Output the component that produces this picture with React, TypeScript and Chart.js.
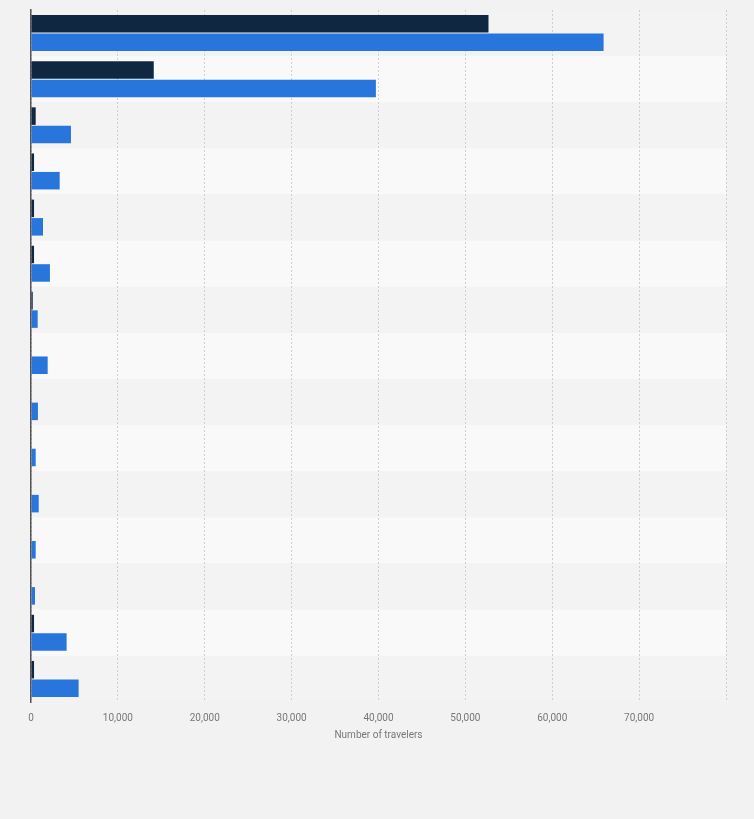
import { useRef, useEffect } from 'react';
import { Chart, registerables } from 'chart.js';

Chart.register(...registerables);

// category names are not printed in the picture, so these are placeholders
const categories = [
  'Row 1', 'Row 2', 'Row 3', 'Row 4', 'Row 5', 'Row 6', 'Row 7', 'Row 8',
  'Row 9', 'Row 10', 'Row 11', 'Row 12', 'Row 13', 'Row 14', 'Row 15',
];
const darkValues = [52660, 14130, 540, 350, 350, 350, 200, 0, 0, 0, 0, 0, 0, 350, 350];
const blueValues = [65910, 39700, 4600, 3300, 1380, 2180, 770, 1920, 800, 540, 890, 540, 460, 4100, 5480];
const xTicks = [0, 10000, 20000, 30000, 40000, 50000, 60000, 70000, 80000];

const rowBands = {
  id: 'rowBands',
  beforeDraw(chart: Chart) {
    const { ctx, chartArea, scales } = chart;
    const y = scales.y;
    ctx.save();
    ctx.fillStyle = '#f2f2f2';
    ctx.fillRect(0, 0, chart.width, chart.height);
    const step = categories.length > 1 ? y.getPixelForValue(1) - y.getPixelForValue(0) : chartArea.height;
    categories.forEach((_, i) => {
      const c = y.getPixelForValue(i);
      ctx.fillStyle = i % 2 === 0 ? '#f3f3f3' : '#f9f9f9';
      ctx.fillRect(chartArea.left, c - step / 2, chartArea.right - chartArea.left, step);
    });
    ctx.restore();
  },
};

export default function App() {
  const canvasRef = useRef<HTMLCanvasElement>(null);
  const chartRef = useRef<Chart | null>(null);

  useEffect(() => {
    document.body.style.margin = '0';
    document.body.style.background = '#f2f2f2';
    if (!canvasRef.current) return;
    if (chartRef.current) chartRef.current.destroy();

    chartRef.current = new Chart(canvasRef.current, {
      type: 'bar',
      data: {
        labels: categories,
        datasets: [
          {
            label: 'Series 1',
            data: darkValues,
            backgroundColor: '#0f2740',
            categoryPercentage: 0.8,
            barPercentage: 0.95,
          },
          {
            label: 'Series 2',
            data: blueValues,
            backgroundColor: '#2876dc',
            categoryPercentage: 0.8,
            barPercentage: 0.95,
          },
        ],
      },
      options: {
        indexAxis: 'y',
        animation: false,
        responsive: false,
        maintainAspectRatio: false,
        layout: { padding: { left: 23, right: 28, top: 10, bottom: 74 } },
        plugins: {
          legend: { display: false },
          tooltip: { enabled: false },
        },
        scales: {
          x: {
            min: 0,
            max: 80000,
            afterBuildTicks: (axis) => {
              axis.ticks = xTicks.map((v) => ({ value: v }));
            },
            grid: { color: '#cfcfcf', lineWidth: 1, drawTicks: false },
            border: { display: false, dash: [2, 2] },
            ticks: {
              padding: 10,
              color: '#777',
              font: { family: 'Roboto', size: 10 },
              callback: (v) => (Number(v) === 80000 ? '' : Number(v).toLocaleString('en-US')),
            },
            title: {
              display: true,
              text: 'Number of travelers',
              color: '#777',
              font: { family: 'Roboto', size: 10 },
              padding: { top: -5, bottom: 4 },
            },
          },
          y: {
            grid: { display: false },
            border: { display: true, color: '#555', width: 1.5 },
            ticks: { display: false },
          },
        },
      },
      plugins: [rowBands],
    });

    return () => {
      chartRef.current?.destroy();
      chartRef.current = null;
    };
  }, []);

  return (
    <div style={{ width: 754, height: 819, background: '#f2f2f2' }}>
      <canvas ref={canvasRef} width={754} height={819} style={{ display: 'block' }} />
    </div>
  );
}
